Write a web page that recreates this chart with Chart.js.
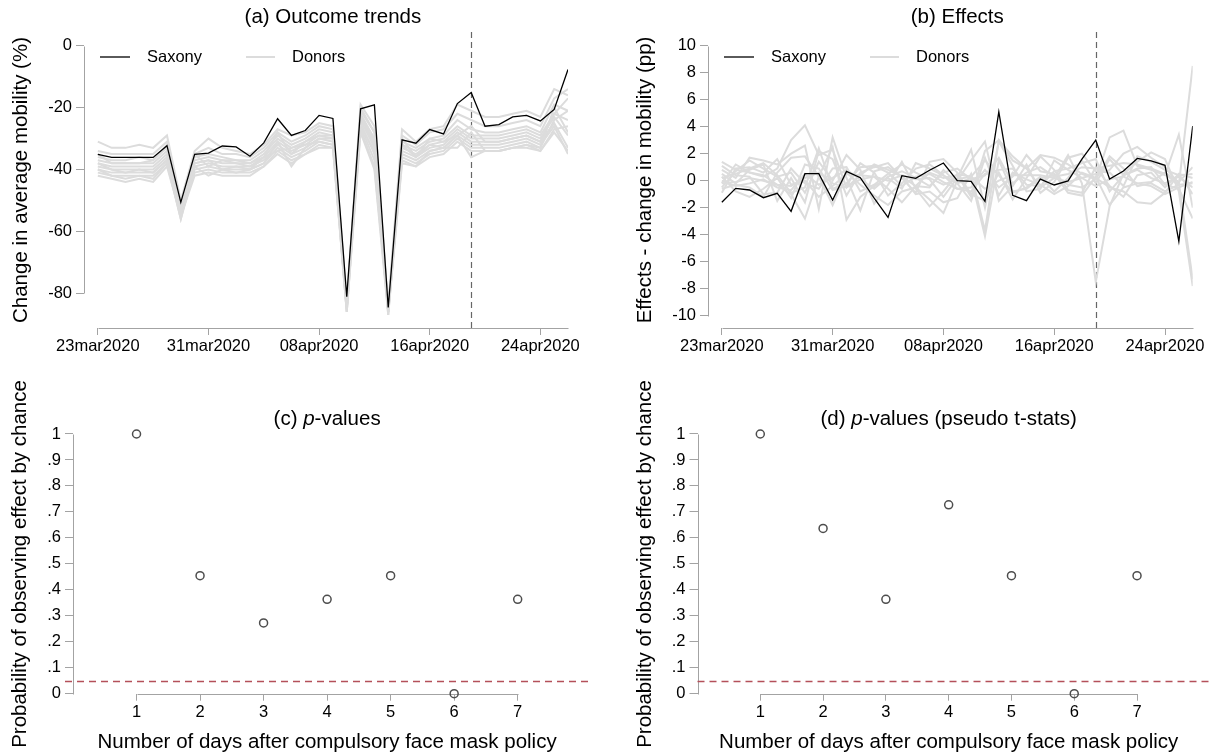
<!DOCTYPE html>
<html>
<head>
<meta charset="utf-8">
<script src="https://cdn.jsdelivr.net/npm/chart.js@4.4.1/dist/chart.umd.min.js"></script>
<style>
  html, body { margin: 0; padding: 0; background: #fff; }
  #wrap { position: relative; width: 1216px; height: 755px; }
  canvas { position: absolute; left: 0; top: 0; }
</style>
</head>
<body>
<div id="wrap">
  <canvas id="panelA" width="1216" height="755"></canvas>
  <canvas id="panelB" width="1216" height="755"></canvas>
  <canvas id="panelC" width="1216" height="755"></canvas>
  <canvas id="panelD" width="1216" height="755"></canvas>
</div>
<script>
const FONT = '"Liberation Sans", Arial, Helvetica, sans-serif';

// ---- data ----
const dates = [
  '23mar2020','24mar2020','25mar2020','26mar2020','27mar2020','28mar2020','29mar2020','30mar2020','31mar2020',
  '01apr2020','02apr2020','03apr2020','04apr2020','05apr2020','06apr2020','07apr2020','08apr2020','09apr2020',
  '10apr2020','11apr2020','12apr2020','13apr2020','14apr2020','15apr2020','16apr2020','17apr2020','18apr2020',
  '19apr2020','20apr2020','21apr2020','22apr2020','23apr2020','24apr2020','25apr2020','26apr2020'
];
const dateTicks = ['23mar2020', '31mar2020', '08apr2020', '16apr2020', '24apr2020'];
const policyDate = '19apr2020';

const saxonyTrend = [-35.1,-36.1,-36.1,-36.1,-36.1,-32.3,-50.6,-35.1,-34.7,-32.4,
  -32.7,-35.7,-31.4,-23.6,-29.0,-27.4,-22.5,-23.5,-81.1,-20.4,
  -19.1,-84.6,-30.4,-31.5,-27.1,-28.5,-18.7,-15.1,-26.0,-25.5,
  -23.0,-22.5,-24.3,-20.6,-7.7];

const donorTrends = [
  [-31,-33,-33,-32,-33,-29,-50,-34,-30,-33,-34,-35,-32,-27,-29,-28,-25,-26,-83,-19,-26,-84,-27,-31,-27,-26,-19,-21,-23,-23,-22,-21,-23,-14,-16],
  [-34,-35,-35,-35,-35,-31,-52,-35,-33,-35,-35,-36,-33,-28,-31,-29,-26,-27,-84,-20,-28,-85,-29,-32,-28,-27,-22,-24,-26,-26,-25,-24,-26,-17,-14],
  [-36,-37,-37,-36,-37,-33,-53,-36,-35,-36,-37,-37,-34,-29,-32,-30,-27,-28,-85,-22,-30,-86,-31,-33,-30,-29,-24,-27,-28,-28,-27,-26,-28,-19,-21],
  [-37,-38,-38,-38,-38,-34,-54,-37,-36,-37,-37,-38,-35,-30,-33,-31,-28,-29,-84,-23,-31,-85,-32,-34,-31,-30,-26,-29,-29,-29,-28,-27,-29,-22,-17],
  [-38,-39,-39,-39,-39,-35,-55,-38,-37,-38,-38,-38,-36,-31,-34,-32,-29,-30,-85,-24,-33,-86,-33,-35,-32,-31,-27,-30,-30,-30,-29,-28,-30,-23,-29],
  [-39,-40,-40,-40,-40,-36,-53,-39,-38,-39,-39,-39,-37,-32,-35,-33,-30,-31,-86,-25,-35,-87,-34,-36,-33,-32,-28,-31,-31,-31,-30,-29,-31,-25,-33],
  [-40,-41,-41,-41,-41,-37,-56,-40,-39,-40,-40,-40,-38,-33,-36,-34,-31,-32,-84,-26,-37,-86,-35,-37,-34,-33,-29,-32,-32,-32,-31,-30,-32,-26,-35],
  [-41,-42,-42,-42,-42,-38,-54,-41,-40,-41,-41,-41,-39,-34,-37,-35,-32,-33,-85,-27,-39,-85,-36,-38,-35,-34,-30,-33,-33,-33,-32,-31,-33,-24,-21],
  [-42,-43,-44,-43,-44,-39,-55,-42,-41,-42,-42,-42,-39,-35,-38,-35,-33,-33,-86,-28,-40,-87,-37,-39,-36,-35,-31,-34,-34,-34,-33,-32,-34,-27,-26],
  [-38,-40,-41,-40,-41,-37,-54,-35,-39,-37,-38,-39,-36,-28,-35,-31,-29,-29,-84,-21,-28,-85,-30,-36,-30,-31,-29,-36,-34,-34,-33,-32,-33,-20,-28],
  [-35,-38,-38,-38,-37,-32,-51,-39,-42,-40,-41,-40,-38,-31,-39,-33,-30,-30,-85,-23,-32,-86,-32,-36,-32,-33,-29,-26,-31,-31,-30,-29,-31,-22,-24],
  [-40,-42,-43,-42,-43,-38,-56,-38,-37,-40,-39,-40,-36,-34,-33,-32,-31,-32,-86,-26,-34,-86,-38,-39,-34,-33,-33,-28,-34,-34,-33,-33,-34,-28,-34]
];

const saxonyEffect = [-1.6,-0.57,-0.69,-1.26,-0.94,-2.27,0.52,0.52,-1.43,0.69,
  0.22,-1.3,-2.72,0.37,0.17,0.77,1.31,0.0,-0.05,-1.53,
  5.1,-1.09,-1.48,0.12,-0.32,-0.02,1.6,3.01,0.12,0.72,
  1.65,1.46,1.14,-4.49,4.05];

const donorEffects = [
  [1.4,0.8,0.6,0.3,0.9,3.0,4.1,1.9,2.3,-0.5,0.4,1.2,0.8,0.3,-0.4,0.6,0.2,0.4,-1.2,2.2,3.0,1.5,0.9,1.9,1.7,1.2,0.5,0.1,3.2,3.7,1.1,0.8,0.4,3.4,-2.0],
  [-0.2,1.2,0.6,0.4,-0.3,-1.0,-2.8,0.3,2.5,-2.9,-1.2,-0.4,0.2,-0.6,1.3,0.9,0.4,-0.2,0.2,-4.1,1.5,-0.8,-0.6,0.2,0.4,-0.3,-0.5,0.1,1.8,0.9,-0.4,-0.2,-0.8,-0.3,8.5],
  [0.8,0.2,1.7,1.5,1.2,2.0,2.6,-2.1,3.2,0.2,-2.2,0.7,1.0,0.3,-1.0,-0.8,-1.6,-1.3,0.5,-3.7,3.0,1.8,0.9,-0.5,0.2,1.9,-0.2,-7.5,-1.9,0.5,1.4,2.1,1.6,-0.8,-7.8],
  [0.0,-0.4,-0.2,0.1,-0.5,-0.7,0.5,-0.3,0.2,0.8,0.1,-0.6,0.3,0.7,0.2,-0.4,0.6,0.9,0.1,0.4,1.7,-0.2,0.6,1.0,0.3,0.5,1.0,0.9,1.1,1.3,1.2,0.9,0.5,-0.3,-0.2],
  [-0.5,0.7,1.5,0.9,0.3,0.6,-0.9,1.4,0.0,1.9,0.8,-1.7,-0.3,1.4,-0.6,-1.9,-0.8,0.5,0.3,1.5,0.4,-0.9,-0.5,0.3,-0.8,0.2,1.5,-0.2,1.6,0.4,0.9,1.0,-0.3,-0.6,-2.8],
  [0.3,-0.8,-1.2,-0.6,0.2,-1.3,1.2,0.9,-0.7,-0.4,1.3,0.6,-1.1,-0.2,0.9,1.2,0.4,-0.6,-0.5,0.8,-0.5,0.3,1.9,0.7,0.5,-0.9,-1.1,0.3,-1.8,-0.5,-0.2,-0.1,0.6,-0.1,1.0],
  [1.1,0.4,0.3,-1.0,-0.9,0.9,-0.2,-0.6,0.9,1.0,-0.8,-0.3,0.5,1.2,0.6,0.1,-1.2,0.2,2.3,-2.0,2.9,1.1,-0.8,-0.6,1.5,0.8,0.2,0.5,0.8,2.0,2.5,1.7,1.0,-0.2,-7.3],
  [-0.9,0.9,1.0,0.6,1.6,-0.3,0.0,-1.2,-0.4,0.5,0.4,0.3,-0.6,-1.6,-0.4,-0.5,0.8,-0.2,-1.5,1.7,-1.1,0.6,0.1,-0.3,-1.0,-0.4,0.6,0.2,-0.5,-0.8,-1.6,-1.7,-0.9,0.5,0.2],
  [-0.2,-0.1,0.2,0.0,-0.3,-0.4,0.2,0.6,-0.2,-0.5,0.1,0.3,0.0,0.4,0.1,0.2,-0.3,0.1,0.3,-0.6,0.0,0.4,0.4,0.4,0.2,-0.1,0.2,-0.4,0.1,0.3,-0.2,-0.4,-1.0,-0.5,-0.1],
  [0.5,-0.2,0.8,1.2,-1.5,0.2,-1.6,2.2,1.6,-1.1,0.6,1.0,1.3,0.2,-0.9,1.4,1.6,0.6,-1.0,-1.5,0.6,-1.4,0.2,1.8,0.8,-0.7,-0.9,1.0,-0.4,-1.2,0.4,0.6,-0.5,0.5,-1.0],
  [-0.6,-0.3,-0.5,-1.2,0.6,1.7,1.8,0.3,-1.8,0.6,-0.3,-1.1,-1.8,-0.8,-0.5,-1.4,-2.4,0.0,1.5,2.9,-1.5,-0.4,1.2,-0.9,-0.1,1.7,2.0,0.7,0.6,-0.4,1.8,1.4,0.8,0.4,0.5],
  [0.2,0.5,0.9,1.3,0.4,-0.9,-0.5,2.4,-0.6,-0.2,1.0,1.1,0.6,-0.4,0.3,0.5,-0.1,-0.6,-0.8,0.5,0.8,0.9,-0.3,-0.4,0.7,0.9,1.3,1.6,-0.8,0.4,0.8,0.2,-0.2,0.3,-0.5]
];

const daysAfter = [1, 2, 3, 4, 5, 6, 7];
const pValues = [1, 0.4545, 0.2727, 0.3636, 0.4545, 0, 0.3636];
const pValuesTstat = [1, 0.6364, 0.3636, 0.7273, 0.4545, 0, 0.4545];

const trendTicks = [0, -20, -40, -60, -80];
const effectTicks = [10, 8, 6, 4, 2, 0, -2, -4, -6, -8, -10];
const pTicks = [1, 0.9, 0.8, 0.7, 0.6, 0.5, 0.4, 0.3, 0.2, 0.1, 0];
const alpha = 0.05;

// ---- Stata look: axis lines, reference lines, titles, legend ----
const stataLook = {
  id: 'stataLook',
  beforeDatasetsDraw(chart, args, o) {
    const { ctx, chartArea: a, scales: { x, y } } = chart;
    ctx.save();
    ctx.strokeStyle = '#a3a3a3';
    ctx.lineWidth = 1;
    // y axis spans its tick range
    const ax = Math.round(a.left) + 0.5;
    ctx.beginPath();
    ctx.moveTo(ax, Math.round(y.getPixelForValue(o.yLine[0])) + 0.5);
    ctx.lineTo(ax, Math.round(y.getPixelForValue(o.yLine[1])) + 0.5);
    ctx.stroke();
    // x axis
    const ay = Math.round(a.bottom) + 0.5;
    ctx.beginPath();
    ctx.moveTo(Math.round(x.getPixelForValue(o.xLine[0])) + 0.5, ay);
    ctx.lineTo(Math.round(x.getPixelForValue(o.xLine[1])) + 0.5, ay);
    ctx.stroke();

    if (o.vline != null) {
      ctx.strokeStyle = '#666';
      ctx.lineWidth = 1.2;
      ctx.setLineDash([6, 4]);
      const px = Math.round(x.getPixelForValue(o.vline)) + 0.5;
      ctx.beginPath();
      ctx.moveTo(px, a.top);
      ctx.lineTo(px, a.bottom);
      ctx.stroke();
    }
    if (o.hline != null) {
      ctx.strokeStyle = '#b4505a';
      ctx.lineWidth = 1.3;
      ctx.setLineDash([7, 5]);
      const py = Math.round(y.getPixelForValue(o.hline)) + 0.5;
      ctx.beginPath();
      ctx.moveTo(a.left - (o.hlineLeft || 0), py);
      ctx.lineTo(a.right, py);
      ctx.stroke();
    }
    ctx.restore();
  },
  afterDraw(chart, args, o) {
    const { ctx, chartArea: a, scales: { x } } = chart;
    ctx.save();
    ctx.fillStyle = '#000';
    ctx.textBaseline = 'middle';

    // panel title, centred on the x axis line
    const cx = (x.getPixelForValue(o.xLine[0]) + x.getPixelForValue(o.xLine[1])) / 2;
    const parts = o.title.map(p => ({ t: p.t, f: (p.i ? 'italic ' : '') + '20.5px ' + FONT }));
    let total = 0;
    parts.forEach(p => { ctx.font = p.f; p.w = ctx.measureText(p.t).width; total += p.w; });
    let tx = cx - total / 2;
    ctx.textAlign = 'left';
    parts.forEach(p => { ctx.font = p.f; ctx.fillText(p.t, tx, o.titleY); tx += p.w; });

    // axis titles
    ctx.font = '20.5px ' + FONT;
    ctx.textAlign = 'center';
    ctx.save();
    ctx.translate(o.yTitle.x, o.yTitle.y);
    ctx.rotate(-Math.PI / 2);
    ctx.fillText(o.yTitle.text, 0, 0);
    ctx.restore();
    if (o.xTitle) ctx.fillText(o.xTitle.text, cx, o.xTitle.y);

    // legend inside the plot
    if (o.legend) {
      const ly = 57;
      const items = [
        { ds: chart.data.datasets[0], x0: 16, x1: 46, tx: 63 },
        { ds: chart.data.datasets[1], x0: 162, x1: 191, tx: 208 }
      ];
      ctx.font = '16.5px ' + FONT;
      ctx.textAlign = 'left';
      items.forEach(it => {
        ctx.strokeStyle = it.ds.borderColor;
        ctx.lineWidth = it.ds.borderWidth;
        ctx.beginPath();
        ctx.moveTo(a.left + it.x0, ly);
        ctx.lineTo(a.left + it.x1, ly);
        ctx.stroke();
        ctx.fillText(it.ds.label, a.left + it.tx, ly);
      });
    }
    ctx.restore();
  }
};

function tickFont() { return { family: FONT, size: 16.5 }; }

function xDateScale() {
  return {
    type: 'linear', min: -1, max: 34,
    afterBuildTicks: s => { s.ticks = dateTicks.map(d => ({ value: dates.indexOf(d) })); },
    afterFit: s => { s.height = 30; },
    ticks: { autoSkip: false, maxRotation: 0, color: '#000', font: tickFont(), padding: 2,
             callback: v => dates[v] },
    grid: { drawOnChartArea: false, drawTicks: true, tickLength: 7, color: '#a3a3a3' },
    border: { display: false }
  };
}

function yScale(min, max, ticks, fmt) {
  return {
    type: 'linear', min: min, max: max,
    afterBuildTicks: s => { s.ticks = ticks.map(v => ({ value: v })); },
    afterFit: s => { s.width = 40; },
    ticks: { color: '#000', font: tickFont(), padding: 4, callback: fmt },
    grid: { drawOnChartArea: false, drawTicks: true, tickLength: 8, color: '#a3a3a3' },
    border: { display: false }
  };
}

function lineSets(main, donors) {
  const sets = [{
    label: 'Saxony', data: main.map((v, i) => ({ x: i, y: v })),
    borderColor: '#000', borderWidth: 1.3
  }];
  donors.forEach(d => sets.push({
    label: 'Donors', data: d.map((v, i) => ({ x: i, y: v })),
    borderColor: '#dcdcdc', borderWidth: 2
  }));
  return sets;
}

const common = {
  responsive: false, animation: false, events: [],
  plugins: { legend: { display: false }, title: { display: false }, tooltip: { enabled: false } }
};

function trendChart(id, main, donors, yMin, yMax, ticks, pad, yTitle, titleText) {
  return new Chart(document.getElementById(id), {
    type: 'line',
    data: { datasets: lineSets(main, donors) },
    options: Object.assign({}, common, {
      layout: { padding: pad },
      elements: { point: { radius: 0 }, line: { tension: 0 } },
      scales: { x: xDateScale(), y: yScale(yMin, yMax, ticks, v => String(v)) },
      plugins: Object.assign({}, common.plugins, {
        stataLook: {
          xLine: [0, 34], yLine: [ticks[0], ticks[ticks.length - 1]],
          vline: dates.indexOf(policyDate), legend: true,
          title: [{ t: titleText }], titleY: 17.5, yTitle: yTitle
        }
      })
    }),
    plugins: [stataLook]
  });
}

function pChart(id, values, pad, yTitleX, title, hlineLeft) {
  return new Chart(document.getElementById(id), {
    type: 'scatter',
    data: { datasets: [{
      label: 'p-value', data: daysAfter.map((d, i) => ({ x: d, y: values[i] })),
      pointRadius: 4, pointBorderWidth: 1.5, pointBorderColor: '#4d4d4d',
      pointBackgroundColor: 'rgba(0,0,0,0)', clip: false
    }] },
    options: Object.assign({}, common, {
      layout: { padding: pad },
      scales: {
        x: {
          type: 'linear', min: 0, max: 8.17,
          afterBuildTicks: s => { s.ticks = daysAfter.map(v => ({ value: v })); },
          afterFit: s => { s.height = 30; },
          ticks: { autoSkip: false, maxRotation: 0, color: '#000', font: tickFont(), padding: 2 },
          grid: { drawOnChartArea: false, drawTicks: true, tickLength: 7, color: '#a3a3a3' },
          border: { display: false }
        },
        y: yScale(0, 1.02, pTicks, v => (v === 0 || v === 1) ? String(v) : v.toFixed(1).slice(1))
      },
      plugins: Object.assign({}, common.plugins, {
        stataLook: {
          xLine: [1, 7], yLine: [1, 0], hline: alpha, hlineLeft: hlineLeft,
          title: title, titleY: 419,
          yTitle: { text: 'Probability of observing effect by chance', x: yTitleX, y: 564 },
          xTitle: { text: 'Number of days after compulsory face mask policy', y: 742 }
        }
      })
    }),
    plugins: [stataLook]
  });
}

trendChart('panelA', saxonyTrend, donorTrends, -91.2, 4.43, trendTicks,
  { left: 44, right: 648, top: 32, bottom: 397 },
  { text: 'Change in average mobility (%)', x: 21, y: 180 }, '(a) Outcome trends');

trendChart('panelB', saxonyEffect, donorEffects, -10.91, 11.01, effectTicks,
  { left: 668, right: 23.3, top: 32, bottom: 397 },
  { text: 'Effects - change in mobility (pp)', x: 645.5, y: 180 }, '(b) Effects');

pChart('panelC', pValues, { left: 33, right: 624, top: 428.8, bottom: 31.3 }, 20,
  [{ t: '(c) ' }, { t: 'p', i: true }, { t: '-values' }], 8);

pChart('panelD', pValuesTstat, { left: 657.5, right: 0, top: 428.8, bottom: 31.3 }, 645.5,
  [{ t: '(d) ' }, { t: 'p', i: true }, { t: '-values (pseudo t-stats)' }], 0);
</script>
</body>
</html>
